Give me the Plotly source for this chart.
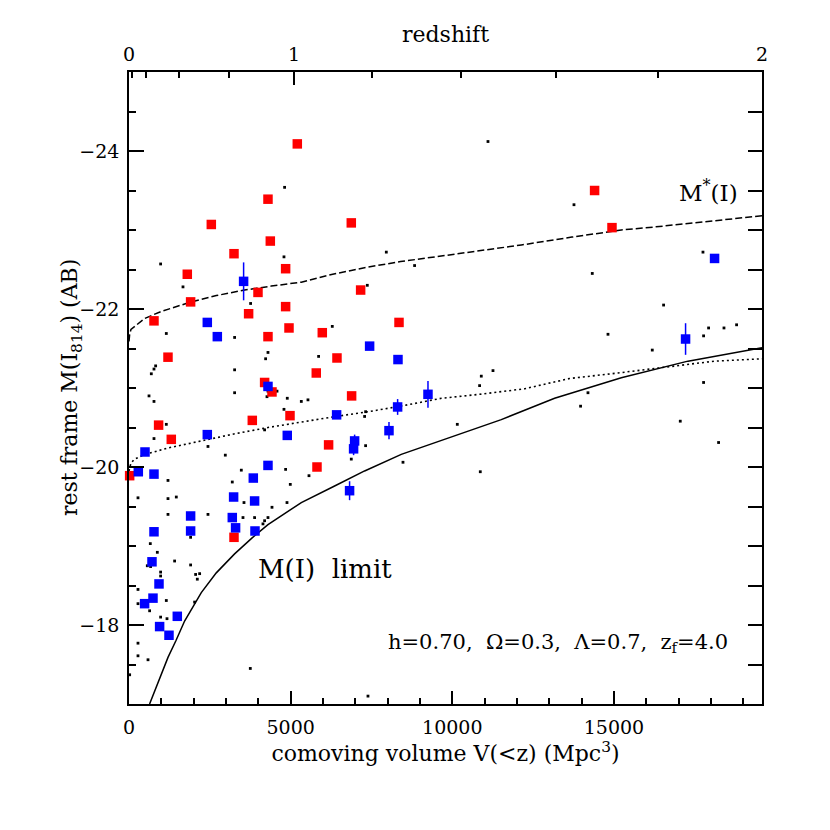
import plotly.graph_objects as go

# ---------------- data ----------------
# red squares: comoving volume (Mpc^3), M(I814)
red_x = [5206, 4299, 2546, 6876, 4371, 3248, 1803, 4845, 14402, 14940, 3990, 7165,
         1906, 4845, 3700, 773, 8352, 4299, 4949, 5979, 1206, 6433, 5793, 4195,
         4423, 6886, 4980, 3814, 916, 1308, 6174, 5815, 20, 3248]
red_y = [-24.09, -23.39, -23.07, -23.09, -22.86, -22.70, -22.44, -22.51, -23.50, -23.03, -22.21, -22.24,
         -22.09, -22.03, -21.94, -21.85, -21.83, -21.65, -21.76, -21.70, -21.39, -21.38, -21.19, -21.07,
         -20.95, -20.90, -20.65, -20.59, -20.53, -20.35, -20.28, -20.00, -19.89, -19.11]
red_err = [0] * 30 + [0.05, 0, 0, 0]

# blue squares
blue_x = [18113, 3545, 2422, 2732, 7443, 8320, 4299, 9248, 8309, 6422, 8042, 2422,
          4896, 6979, 6947, 495, 4299, 288, 773, 3845, 6823, 3236, 3885, 1906,
          3195, 773, 1906, 3297, 3897, 711, 928, 742, 483, 1494, 947, 1237, 17216]
blue_y = [-22.64, -22.35, -21.83, -21.65, -21.53, -21.36, -21.02, -20.92, -20.76, -20.66, -20.46, -20.41,
          -20.40, -20.33, -20.23, -20.19, -20.02, -19.94, -19.91, -19.86, -19.70, -19.62, -19.57, -19.38,
          -19.36, -19.18, -19.19, -19.23, -19.19, -18.80, -18.52, -18.34, -18.27, -18.11, -17.98, -17.87, -21.62]
blue_err = [0.05, 0.24, 0, 0, 0, 0, 0, 0.17, 0.10, 0, 0.11, 0,
            0, 0.08, 0.08, 0, 0, 0, 0, 0, 0.12, 0, 0, 0,
            0.05, 0, 0, 0, 0, 0, 0, 0, 0, 0, 0, 0, 0.20]

# small black dots
dot_x = [4813, 4794, 978, 11104, 7959, 8834, 7371, 13764, 17754, 1670, 3762, 1154,
         3267, 6288, 4299, 4226, 5865, 824, 773, 690, 3267, 4299, 4268, 4578,
         3267, 619, 773, 4896, 5330, 5536, 4794, 7319, 7288, 10897, 11259, 10845,
         1154, 4195, 773, 7319, 2443, 2979, 6876, 8475, 10155, 10866, 3474, 4845,
         1206, 3195, 4989, 5567, 278, 1206, 1463, 3557, 4887, 4423, 1206, 2443,
         3526, 3885, 4299, 4195, 4144, 1906, 659, 876, 566, 669, 1411, 1906,
         2185, 2113, 2061, 978, 978, 278, 6669, 2030, 278, 1154, 638, 978,
         1175, 278, 278, 588, 3752, 20, 7392, 14330, 16536, 14816, 17928, 18404,
         18794, 17773, 16186, 14197, 17773, 13968, 17052, 18237]
dot_y = [-23.54, -22.66, -22.57, -24.12, -22.72, -22.55, -22.30, -23.32, -22.72, -22.28, -22.07, -21.69,
         -21.64, -21.78, -21.45, -21.37, -21.40, -21.28, -21.24, -21.18, -21.23, -20.96, -20.89, -20.96,
         -20.94, -20.90, -20.83, -20.87, -20.83, -20.85, -20.73, -20.70, -20.64, -21.15, -21.22, -21.03,
         -20.54, -20.47, -20.36, -20.27, -20.26, -20.15, -20.10, -20.06, -20.54, -19.94, -19.96, -19.97,
         -19.83, -19.81, -19.78, -19.89, -19.61, -19.60, -19.62, -19.55, -19.55, -19.49, -19.40, -19.40,
         -19.36, -19.36, -19.36, -19.32, -19.28, -19.11, -19.03, -18.92, -18.75, -18.74, -18.81, -18.76,
         -18.65, -18.58, -18.64, -18.67, -18.62, -18.45, -18.68, -18.29, -18.27, -18.31, -18.18, -18.10,
         -18.08, -17.77, -17.61, -17.56, -17.45, -17.37, -17.10, -22.45, -22.05, -21.68, -21.76, -21.76,
         -21.80, -21.66, -21.48, -20.94, -21.07, -20.77, -20.58, -20.31]

# M*(I) curve (dashed)
mstar_x = [0, 20, 60, 173, 483, 1000, 1927, 2700, 3576, 4400, 5330, 6300, 7390, 8400,
           9445, 10800, 12135, 13700, 15228, 16300, 17290, 18300, 19580]
mstar_y = [-21.59, -21.68, -21.74, -21.78, -21.88, -21.97, -22.09, -22.17, -22.24, -22.29, -22.34, -22.44,
           -22.53, -22.60, -22.66, -22.74, -22.81, -22.91, -23.00, -23.04, -23.08, -23.13, -23.18]

# dotted curve
dotc_x = [0, 60, 170, 500, 1200, 2200, 3270, 4300, 5330, 6400, 7400, 8400, 9666, 10845,
          12236, 13628, 15125, 16774, 18113, 19580]
dotc_y = [-19.95, -20.05, -20.10, -20.16, -20.24, -20.33, -20.42, -20.50, -20.57, -20.64, -20.70,
          -20.77, -20.87, -20.92, -20.99, -21.12, -21.19, -21.27, -21.34, -21.37]

# M(I) limit curve (solid)
lim_x = [637, 897, 1206, 1450, 1720, 2236, 2700, 3266, 3800, 4299, 5330, 6360, 7288, 8422,
         9045, 10485, 11105, 11515, 13165, 15228, 17290, 19580]
lim_y = [-17.0, -17.26, -17.59, -17.80, -18.05, -18.41, -18.66, -18.90, -19.10, -19.27, -19.55,
         -19.76, -19.95, -20.16, -20.25, -20.45, -20.54, -20.60, -20.87, -21.13, -21.34, -21.51]

# axes
x_range = [0, 19580]
y_range = [-17, -25]
x_tick_vals = [0, 5000, 10000, 15000]
x_tick_text = ["0", "5000", "10000", "15000"]
y_tick_vals = [-24, -22, -20, -18]
y_tick_text = ["\u221224", "\u221222", "\u221220", "\u221218"]
z_major_vals = [0, 5103, 19579]
z_major_text = ["0", "1", "2"]
z_minor_vals = [81, 535, 1534, 3093, 7516, 10257, 13217, 16362]

FONT = "DejaVu Serif"

fig = go.Figure()

fig.add_trace(go.Scatter(x=lim_x, y=lim_y, mode="lines",
                         line=dict(color="black", width=1.5), showlegend=False))
fig.add_trace(go.Scatter(x=dotc_x, y=dotc_y, mode="lines",
                         line=dict(color="black", width=1.6, dash="2px,3px"), showlegend=False))
fig.add_trace(go.Scatter(x=mstar_x, y=mstar_y, mode="lines",
                         line=dict(color="black", width=1.5, dash="7px,3px"), showlegend=False))
fig.add_trace(go.Scatter(x=dot_x, y=dot_y, mode="markers",
                         marker=dict(color="black", size=2.8, symbol="square"),
                         showlegend=False))
fig.add_trace(go.Scatter(x=red_x, y=red_y, mode="markers", cliponaxis=False,
                         marker=dict(color="#ff0000", size=9.5, symbol="square"),
                         error_y=dict(type="data", array=red_err, color="#ff0000", thickness=1.5, width=0),
                         showlegend=False))
fig.add_trace(go.Scatter(x=blue_x, y=blue_y, mode="markers", cliponaxis=False,
                         marker=dict(color="#0000ff", size=9.5, symbol="square"),
                         error_y=dict(type="data", array=blue_err, color="#0000ff", thickness=1.5, width=0),
                         showlegend=False))
# helper trace on the secondary (top / right) axes
fig.add_trace(go.Scatter(x=[None], y=[None], xaxis="x2", yaxis="y2", mode="markers",
                         showlegend=False, hoverinfo="skip"))

axis_common = dict(showline=True, linecolor="black", linewidth=1.5, showgrid=False,
                   zeroline=False, ticks="inside", tickcolor="black", tickwidth=1.5)

fig.update_layout(
    width=830, height=830,
    margin=dict(l=121, r=76, t=64, b=134, pad=0),
    paper_bgcolor="white", plot_bgcolor="white",
    font=dict(family=FONT, size=19, color="black"),
    xaxis=dict(range=x_range, autorange=False, tickmode="array", tickvals=x_tick_vals,
               ticktext=x_tick_text, ticklen=13, ticklabelstandoff=5,
               minor=dict(ticks="inside", dtick=1000, tick0=0, ticklen=6, tickcolor="black", tickwidth=1.5),
               title=dict(text="comoving volume V(&lt;z) (Mpc<sup>3</sup>)", font=dict(size=22), standoff=3),
               **axis_common),
    yaxis=dict(range=y_range, autorange=False, tickmode="array", tickvals=y_tick_vals,
               ticktext=y_tick_text, ticklen=15, ticklabelstandoff=4,
               minor=dict(ticks="inside", dtick=0.5, tick0=-25, ticklen=7, tickcolor="black", tickwidth=1.5),
               **axis_common),
    xaxis2=dict(range=x_range, autorange=False, overlaying="x", side="top", anchor="y2",
                tickmode="array", tickvals=z_major_vals, ticktext=z_major_text, ticklen=13,
                ticklabelstandoff=2,
                minor=dict(ticks="inside", tickvals=z_minor_vals, ticklen=6, tickcolor="black", tickwidth=1.5),
                **axis_common),
    yaxis2=dict(range=y_range, autorange=False, overlaying="y", side="right", anchor="x2",
                tickmode="linear", tick0=-25, dtick=0.5, ticklen=14, showticklabels=False,
                **axis_common),
    annotations=[
        dict(x=-0.0916, y=0.5, xref="paper", yref="paper", text="rest frame M(I<sub>814</sub>) (AB)",
             textangle=-90, showarrow=False, font=dict(size=22), xanchor="center", yanchor="middle"),
        dict(x=0.5, y=1.060, xref="paper", yref="paper", text="redshift",
             showarrow=False, font=dict(size=22), xanchor="center", yanchor="middle"),
        dict(x=17934, y=-23.49, xref="x", yref="y", text="M<sup>*</sup>(I)", showarrow=False,
             font=dict(size=23), xanchor="center", yanchor="middle"),
        dict(x=6072, y=-18.71, xref="x", yref="y", text="M(I)  limit", showarrow=False,
             font=dict(size=26), xanchor="center", yanchor="middle"),
        dict(x=13279, y=-17.77, xref="x", yref="y",
             text="h=0.70,  \u03a9=0.3,  \u039b=0.7,  z<sub>f</sub>=4.0", showarrow=False,
             font=dict(size=21), xanchor="center", yanchor="middle"),
    ],
)

fig.write_html("out.html")
